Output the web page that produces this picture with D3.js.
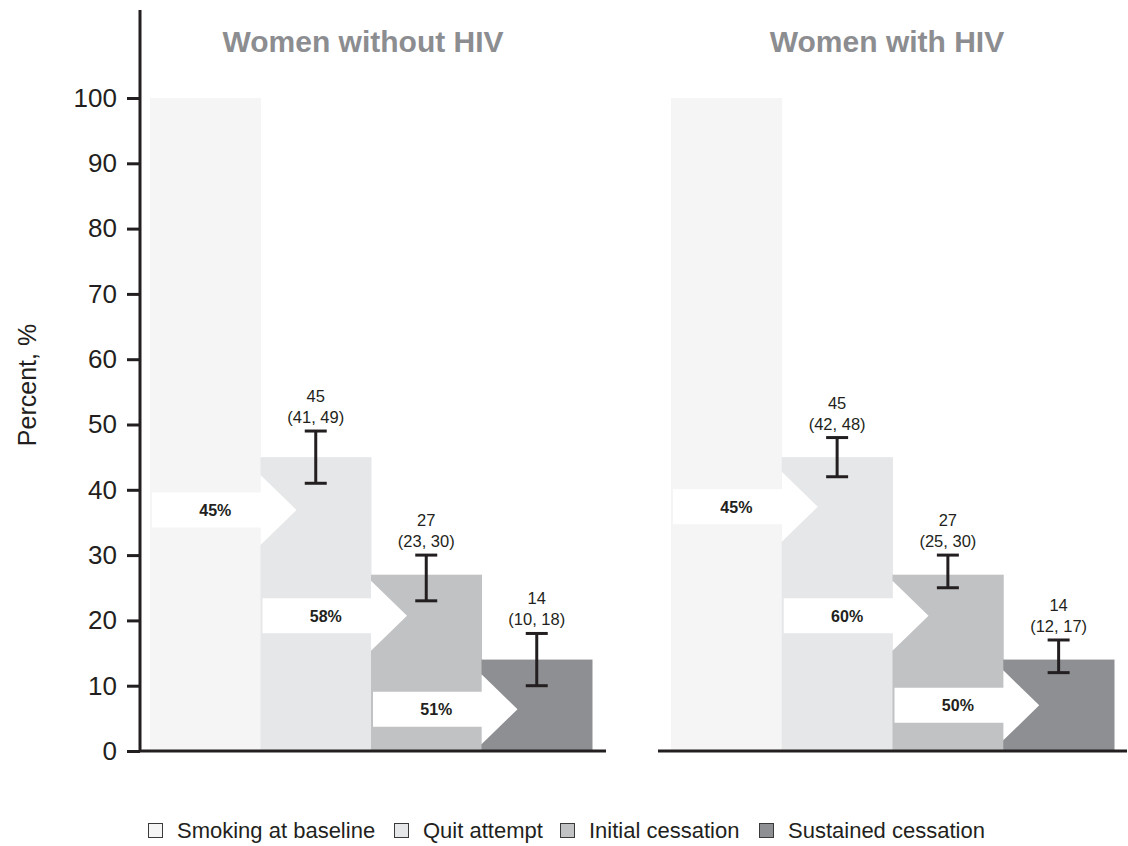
<!DOCTYPE html>
<html>
<head>
<meta charset="utf-8">
<script src="https://cdn.jsdelivr.net/npm/d3@7"></script>
<style>
  html, body { margin: 0; padding: 0; background: #fff; }
  svg { display: block; font-family: "Liberation Sans", Arial, sans-serif; }
</style>
</head>
<body>
<svg id="chart" width="1128" height="846"></svg>
<script>
// Smoking cessation cascade, women without / with HIV
const stages = ["Smoking at baseline", "Quit attempt", "Initial cessation", "Sustained cessation"];
const panels = ["Women without HIV", "Women with HIV"];

const valuesWithout = [100, 45, 27, 14];
const lowerWithout  = [null, 41, 23, 10];
const upperWithout  = [null, 49, 30, 18];
const transitionsWithout = ["45%", "58%", "51%"];

const valuesWith = [100, 45, 27, 14];
const lowerWith  = [null, 42, 25, 12];
const upperWith  = [null, 48, 30, 17];
const transitionsWith = ["45%", "60%", "50%"];

const yTicks = [0, 10, 20, 30, 40, 50, 60, 70, 80, 90, 100];

// ---- layout ----
const colors = ["#f5f5f5", "#e6e7e8", "#c1c2c4", "#8e8f92"];
const ink = "#231f20";
const y = d3.scaleLinear().domain([0, 100]).range([751, 98]);

const panelLayout = [
  { x0: 150, x1: 592, baseFrom: 140, baseTo: 606, titleX: 363,
    arrowY: [36.9, 20.7, 6.4] },
  { x0: 671, x1: 1114, baseFrom: 658, baseTo: 1127, titleX: 887,
    arrowY: [37.4, 20.7, 7.0] }
];

const panelData = [
  { values: valuesWithout, lower: lowerWithout, upper: upperWithout, trans: transitionsWithout },
  { values: valuesWith, lower: lowerWith, upper: upperWith, trans: transitionsWith }
];

const svg = d3.select("#chart");

// y axis
const yAxis = d3.axisLeft(y).tickValues(yTicks).tickSize(13).tickSizeOuter(0).tickPadding(10);
const gy = svg.append("g").attr("transform", "translate(140,0)").call(yAxis);
gy.select(".domain").remove();
gy.selectAll(".tick line").attr("stroke", ink).attr("stroke-width", 3);
gy.selectAll(".tick text").attr("fill", ink).attr("font-size", 26)
  .attr("font-family", "Liberation Sans, Arial, sans-serif");
svg.append("line").attr("x1", 140).attr("x2", 140).attr("y1", 10).attr("y2", y(0) + 1)
  .attr("stroke", ink).attr("stroke-width", 3);

svg.append("text")
  .attr("transform", "translate(36,385) rotate(-90)")
  .attr("text-anchor", "middle").attr("font-size", 25).attr("fill", ink)
  .text("Percent, %");

panelLayout.forEach((L, p) => {
  const D = panelData[p];
  const x = d3.scaleBand().domain(stages).range([L.x0, L.x1]).padding(0);
  const g = svg.append("g");

  // bars
  g.selectAll("rect.bar").data(stages).join("rect")
    .attr("class", "bar")
    .attr("x", d => x(d))
    .attr("width", x.bandwidth() + 0.5)
    .attr("y", (d, i) => y(D.values[i]))
    .attr("height", (d, i) => y(0) - y(D.values[i]))
    .attr("fill", (d, i) => colors[i]);

  // transition arrows
  const halfBody = 17.5, halfHead = 35, headLen = 36;
  D.trans.forEach((t, i) => {
    const left = x(stages[i]) + 2;
    const mid = x(stages[i + 1]);
    const cy = y(L.arrowY[i]);
    const path = d3.path();
    path.moveTo(left, cy - halfBody);
    path.lineTo(mid, cy - halfBody);
    path.lineTo(mid, cy - halfHead);
    path.lineTo(mid + headLen, cy);
    path.lineTo(mid, cy + halfHead);
    path.lineTo(mid, cy + halfBody);
    path.lineTo(left, cy + halfBody);
    path.closePath();
    g.append("path").attr("d", path.toString()).attr("fill", "#ffffff");
    g.append("text")
      .attr("x", (left + mid) / 2 + 9).attr("y", cy + 6)
      .attr("text-anchor", "middle").attr("font-size", 16).attr("font-weight", "bold")
      .attr("fill", ink).text(t);
  });

  // error bars and value labels
  stages.forEach((s, i) => {
    if (D.lower[i] == null) return;
    const cx = x(s) + x.bandwidth() / 2;
    const cap = 11;
    g.append("line").attr("x1", cx).attr("x2", cx)
      .attr("y1", y(D.lower[i])).attr("y2", y(D.upper[i]))
      .attr("stroke", ink).attr("stroke-width", 3);
    [D.lower[i], D.upper[i]].forEach(v => {
      g.append("line").attr("x1", cx - cap).attr("x2", cx + cap)
        .attr("y1", y(v)).attr("y2", y(v))
        .attr("stroke", ink).attr("stroke-width", 3);
    });
    const top = y(D.upper[i]);
    g.append("text").attr("x", cx).attr("y", top - 8)
      .attr("text-anchor", "middle").attr("font-size", 16.5).attr("fill", ink)
      .text(`(${D.lower[i]}, ${D.upper[i]})`);
    g.append("text").attr("x", cx).attr("y", top - 29)
      .attr("text-anchor", "middle").attr("font-size", 16.5).attr("fill", ink)
      .text(D.values[i]);
  });

  // baseline
  g.append("line").attr("x1", L.baseFrom).attr("x2", L.baseTo)
    .attr("y1", y(0)).attr("y2", y(0))
    .attr("stroke", ink).attr("stroke-width", 3);

  // panel title
  g.append("text").attr("x", L.titleX).attr("y", 52)
    .attr("text-anchor", "middle").attr("font-size", 30).attr("font-weight", "bold")
    .attr("fill", "#8c8d90").text(panels[p]);
});

// legend
const legendX = [148, 394, 560, 759];
const lg = svg.append("g");
stages.forEach((s, i) => {
  lg.append("rect").attr("x", legendX[i] + 0.5).attr("y", 823.5).attr("width", 14).attr("height", 14)
    .attr("fill", colors[i]).attr("stroke", "#3a3a3a").attr("stroke-width", 1);
  lg.append("text").attr("x", legendX[i] + 29).attr("y", 838)
    .attr("font-size", 22).attr("fill", ink).text(s);
});
</script>
</body>
</html>
